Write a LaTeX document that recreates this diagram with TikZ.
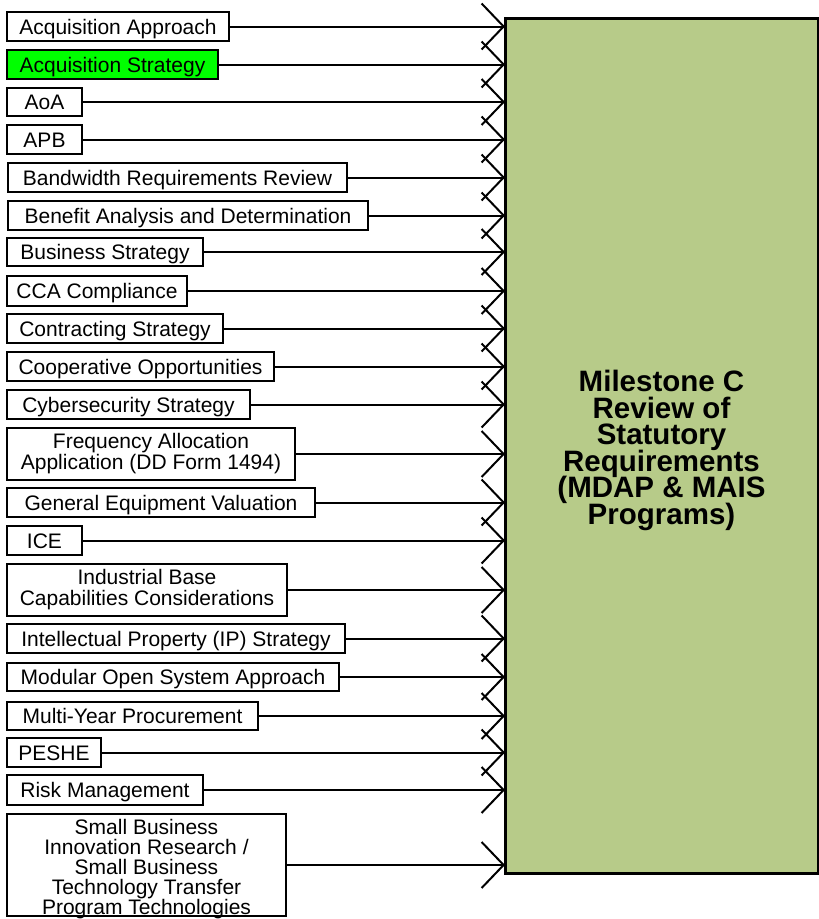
\documentclass[tikz,border=0pt]{standalone}
\usepackage{fontspec}
\setmainfont{Liberation Sans}
\usetikzlibrary{arrows.meta}
\definecolor{bigfill}{RGB}{183,203,137}
\definecolor{hilite}{RGB}{0,255,0}
\newcommand{\tightlines}{\lineskiplimit=-100pt\relax\lineskip=0pt\relax}
\tikzset{
  lbox/.style={draw=black, line width=2pt, fill=white, inner sep=0pt, outer sep=0pt,
    align=center, font=\fontsize{21}{21}\selectfont},
  onebox/.style={lbox, text height=15pt, text depth=0pt},
  sbtext/.style={align=center, inner sep=0pt, font=\fontsize{21}{20}\selectfont},
  bigbox/.style={draw=black, line width=3pt, fill=bigfill, inner sep=0pt, outer sep=0pt},
  bigtext/.style={align=center, inner sep=0pt,
    font=\fontsize{29.5}{26.6}\selectfont\bfseries\tightlines},
  conn/.style={draw=black, line width=2pt, -{Straight Barb[length=22pt,width=46pt]}}
}
\newcommand{\lb}[7]{% name, x0, y0, x1, y1, style, text
  \node[#6, minimum width={#4-#2}, minimum height={#5-#3}] (#1) at ({(#2+#4)/2},{(#3+#5)/2}) {#7};
}
\begin{document}
\begin{tikzpicture}[x=1pt,y=-1pt]
\useasboundingbox (0,0) rectangle (819,919);
\node[bigbox, minimum width=313, minimum height=855] (big) at (661.5,446) {};
\node[bigtext] (bigtxt) at ([yshift=-4.5pt]big.center)
  {Milestone C\\Review of\\Statutory\\Requirements\\(MDAP \& MAIS\\Programs)};
\lb{a1}{7}{12}{229}{41}{onebox}{Acquisition Approach}
\lb{a2}{7}{50}{218}{79}{onebox,fill=hilite}{Acquisition Strategy}
\lb{a3}{7}{88}{82}{116}{onebox}{AoA}
\lb{a4}{7}{125}{82}{154}{onebox}{APB}
\lb{a5}{8}{163}{347}{192}{onebox}{Bandwidth Requirements Review}
\lb{a6}{8}{201}{368}{230}{onebox}{Benefit Analysis and Determination}
\lb{a7}{7}{238}{203}{266}{onebox}{Business Strategy}
\lb{a8}{7}{276}{187}{306}{onebox}{CCA Compliance}
\lb{a9}{7}{314}{223}{343}{onebox}{Contracting Strategy}
\lb{a10}{7}{352}{274}{381}{onebox}{Cooperative Opportunities}
\lb{a11}{7}{390}{250}{419}{onebox}{Cybersecurity Strategy}
\lb{a12}{7}{428}{295}{480}{lbox}{Frequency Allocation\\Application (DD Form 1494)}
\lb{a13}{7}{488}{315}{517}{onebox}{General Equipment Valuation}
\lb{a14}{7}{526}{82}{555}{onebox}{ICE}
\lb{a15}{7}{564}{287}{616}{lbox}{Industrial Base\\Capabilities Considerations}
\lb{a16}{7}{624}{345}{653}{onebox}{Intellectual Property (IP) Strategy}
\lb{a17}{7}{663}{339}{691}{onebox}{Modular Open System Approach}
\lb{a18}{7}{702}{258}{730}{onebox}{Multi-Year Procurement}
\lb{a19}{7}{738}{101}{767}{onebox}{PESHE}
\lb{a20}{7}{775}{203}{805}{onebox}{Risk Management}
\lb{a21}{7}{814}{286}{916}{lbox}{}
\node[sbtext] (a21t) at ([yshift=-4pt]a21.center)
  {Small Business\\Innovation Research /\\Small Business\\Technology Transfer\\Program Technologies};
\foreach \i in {1,...,21}{
  \draw[conn] (a\i.east) -- (a\i.east -| big.west);
}
\end{tikzpicture}
\end{document}
